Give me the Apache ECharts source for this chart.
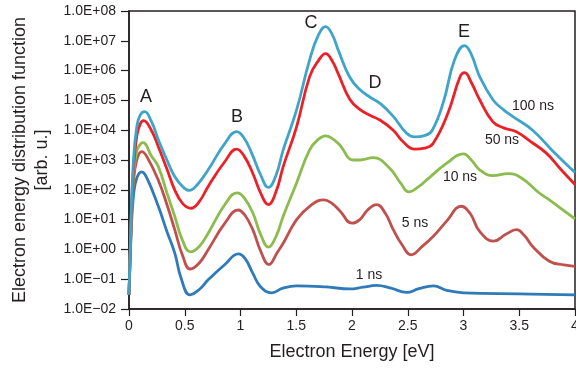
<!DOCTYPE html>
<html>
<head>
<meta charset="utf-8">
<script src="https://cdn.jsdelivr.net/npm/echarts@6/dist/echarts.min.js"></script>
<style>
  html, body { margin: 0; padding: 0; background: #fff; }
  #chart { width: 576px; height: 369px; }
</style>
</head>
<body>
<div id="chart"></div>
<script>
// Electron energy distribution function after various times (log scale)
const xTicks = [0, 0.5, 1, 1.5, 2, 2.5, 3, 3.5, 4];

const energy100 = [0, 0.02, 0.04, 0.07, 0.10, 0.14, 0.20, 0.263, 0.34, 0.41, 0.48, 0.54, 0.62, 0.71, 0.86, 0.965, 1.03, 1.10, 1.18, 1.25, 1.32, 1.383, 1.503, 1.62, 1.70, 1.763, 1.82, 1.88, 1.98, 2.07, 2.16, 2.26, 2.37, 2.49, 2.56, 2.65, 2.72, 2.82, 2.92, 3.01, 3.07, 3.145, 3.264, 3.36, 3.44, 3.62, 3.80, 4.00];
const edf100 = [0.03, 16, 1000, 1.3e4, 3.2e4, 4.2e4, 2.0e4, 4800, 1000, 280, 130, 95, 160, 470, 3600, 8900, 5600, 1700, 320, 120, 320, 2200, 4.8e4, 2.3e6, 1.6e7, 3.0e7, 1.7e7, 4.5e6, 6.0e5, 2.3e5, 1.3e5, 7.5e4, 2.9e4, 7900, 6000, 6600, 1.0e4, 8.9e4, 2.3e6, 6.9e6, 3.5e6, 6.3e5, 1.05e5, 4.8e4, 2.9e4, 1.0e4, 2000, 380];

const energy50 = [0, 0.02, 0.04, 0.07, 0.10, 0.13, 0.20, 0.263, 0.34, 0.41, 0.48, 0.556, 0.63, 0.71, 0.86, 0.965, 1.03, 1.11, 1.18, 1.25, 1.32, 1.383, 1.503, 1.62, 1.70, 1.763, 1.82, 1.875, 1.98, 2.07, 2.16, 2.25, 2.37, 2.46, 2.563, 2.65, 2.727, 2.86, 2.97, 3.01, 3.07, 3.145, 3.264, 3.36, 3.474, 3.60, 3.743, 3.87, 4.00];
const edf50 = [0.03, 10, 500, 6500, 1.6e4, 2.1e4, 1.0e4, 2800, 500, 100, 35, 24, 40, 130, 890, 2300, 1400, 360, 79, 32, 89, 600, 1.3e4, 6.3e5, 2.2e6, 3.7e6, 2.2e6, 8.1e5, 1.1e5, 5.0e4, 3.2e4, 2.2e4, 1.0e4, 4000, 2300, 2500, 3600, 3.7e4, 6.3e5, 8.5e5, 4.0e5, 1.05e5, 1.9e4, 1.2e4, 8900, 4200, 1700, 500, 150];

const energy10 = [0, 0.02, 0.04, 0.07, 0.10, 0.125, 0.20, 0.263, 0.34, 0.41, 0.48, 0.55, 0.63, 0.71, 0.86, 0.97, 1.03, 1.11, 1.18, 1.25, 1.32, 1.383, 1.503, 1.62, 1.70, 1.763, 1.83, 1.89, 2.01, 2.07, 2.19, 2.34, 2.44, 2.51, 2.60, 2.667, 2.85, 3.00, 3.07, 3.145, 3.264, 3.40, 3.52, 3.68, 3.77, 3.90, 4.00];
const edf10 = [0.03, 8, 300, 2000, 3300, 3800, 1400, 600, 79, 13, 2.0, 0.83, 1.26, 3.5, 32, 79, 56, 17, 3.2, 1.2, 2.8, 13, 170, 2200, 5000, 6500, 5000, 3200, 1000, 1000, 1200, 520, 160, 85, 130, 210, 780, 1600, 1000, 470, 300, 350, 250, 78, 46, 20, 10.5];

const energy5 = [0, 0.02, 0.04, 0.07, 0.114, 0.16, 0.263, 0.34, 0.41, 0.48, 0.55, 0.63, 0.71, 0.86, 0.98, 1.04, 1.11, 1.18, 1.255, 1.33, 1.383, 1.503, 1.62, 1.747, 1.82, 1.89, 2.00, 2.07, 2.14, 2.22, 2.30, 2.37, 2.45, 2.53, 2.63, 2.727, 2.847, 2.98, 3.06, 3.145, 3.27, 3.38, 3.474, 3.55, 3.62, 3.77, 3.90, 4.00];
const edf5 = [0.03, 6, 180, 1000, 1900, 1300, 210, 32, 4.6, 0.63, 0.22, 0.35, 0.98, 7.6, 21, 14, 4.6, 0.89, 0.31, 0.79, 1.6, 10, 28, 46, 35, 20, 7.6, 10, 21, 32, 16, 4.6, 1.4, 0.66, 1.26, 2.7, 8.7, 28, 16, 4.0, 1.9, 3.2, 4.6, 2.8, 1.26, 0.40, 0.30, 0.27];

const energy1 = [0, 0.02, 0.04, 0.07, 0.115, 0.16, 0.263, 0.34, 0.41, 0.47, 0.547, 0.63, 0.71, 0.86, 0.98, 1.04, 1.11, 1.18, 1.28, 1.38, 1.50, 1.77, 1.98, 2.10, 2.22, 2.35, 2.49, 2.60, 2.73, 2.85, 3.00, 3.50, 4.00];
const edf1 = [0.03, 4.0, 63, 250, 400, 250, 28, 4.0, 0.76, 0.10, 0.030, 0.045, 0.095, 0.31, 0.71, 0.50, 0.16, 0.056, 0.035, 0.050, 0.060, 0.055, 0.047, 0.054, 0.062, 0.050, 0.036, 0.048, 0.060, 0.042, 0.035, 0.032, 0.030];

const seriesNames = ['100 ns', '50 ns', '10 ns', '5 ns', '1 ns'];
const seriesColors = ['#3fa5c8', '#ea2228', '#8cbb4e', '#c0504d', '#2f7ab9'];
const peakLabels = ['A', 'B', 'C', 'D', 'E'];

const pairs = (xs, ys) => xs.map((x, i) => [x, ys[i]]);
const curves = [
  pairs(energy100, edf100),
  pairs(energy50, edf50),
  pairs(energy10, edf10),
  pairs(energy5, edf5),
  pairs(energy1, edf1)
];

// Draw order: lowest curve first so the upper ones sit on top
const order = [4, 3, 2, 1, 0];

function expLabel(v) {
  const e = Math.round(Math.log10(v));
  const sign = e < 0 ? '\u2212' : '+';
  const a = Math.abs(e);
  return '1.0E' + sign + (a < 10 ? '0' + a : '' + a);
}

const chart = echarts.init(document.getElementById('chart'), null, { renderer: 'canvas' });
const fontFamily = 'Liberation Sans, Arial, Helvetica, sans-serif';
const ink = '#231f20';

const option = {
  animation: false,
  backgroundColor: '#ffffff',
  grid: {
    left: 129, right: 1, top: 11, bottom: 60,
    outerBoundsMode: 'none', containLabel: false,
    show: true, borderColor: ink, borderWidth: 1.5, backgroundColor: 'transparent'
  },
  xAxis: {
    type: 'value',
    min: xTicks[0], max: xTicks[xTicks.length - 1], interval: 0.5,
    name: 'Electron Energy [eV]',
    nameLocation: 'middle', nameGap: 34,
    nameTextStyle: { fontFamily, fontSize: 18, color: ink },
    axisLine: { show: true, lineStyle: { color: ink, width: 1.5 } },
    axisTick: { show: true, inside: false, length: 7, lineStyle: { color: ink, width: 1.2 } },
    axisLabel: { fontFamily, fontSize: 14, color: ink, margin: 10 },
    splitLine: { show: false }
  },
  yAxis: {
    type: 'log', logBase: 10,
    min: 1e-2, max: 1e8, interval: 1,
    axisLine: { show: true, lineStyle: { color: ink, width: 1.5 } },
    axisTick: { show: true, inside: false, length: 8, lineStyle: { color: ink, width: 1.2 } },
    axisLabel: { fontFamily, fontSize: 14, color: ink, margin: 13, formatter: expLabel },
    splitLine: { show: false }
  },
  series: order.map(i => ({
    name: seriesNames[i],
    type: 'line',
    data: curves[i],
    smooth: 0.45,
    showSymbol: false,
    symbol: 'none',
    lineStyle: { color: seriesColors[i], width: 2.8 },
    z: 2 + (4 - i)
  })),
  graphic: [
    {
      type: 'text', x: 20, y: 160, rotation: Math.PI / 2,
      style: { text: 'Electron energy distribution function', fontFamily, fontSize: 18, fill: ink, align: 'center', verticalAlign: 'middle' }
    },
    {
      type: 'text', x: 42, y: 160, rotation: Math.PI / 2,
      style: { text: '[arb. u.]', fontFamily, fontSize: 18, fill: ink, align: 'center', verticalAlign: 'middle' }
    },
    ...[[146, 97], [237, 117], [311, 23], [375, 83], [464, 32]].map((p, k) => ({
      type: 'text', x: p[0], y: p[1],
      style: { text: peakLabels[k], fontFamily, fontSize: 18, fill: ink, align: 'center', verticalAlign: 'middle' }
    })),
    ...[[533, 106], [502, 140], [460, 177], [415, 223], [369, 275]].map((p, k) => ({
      type: 'text', x: p[0], y: p[1],
      style: { text: seriesNames[k], fontFamily, fontSize: 14, fill: ink, align: 'center', verticalAlign: 'middle' }
    }))
  ]
};

chart.setOption(option);
</script>
</body>
</html>
